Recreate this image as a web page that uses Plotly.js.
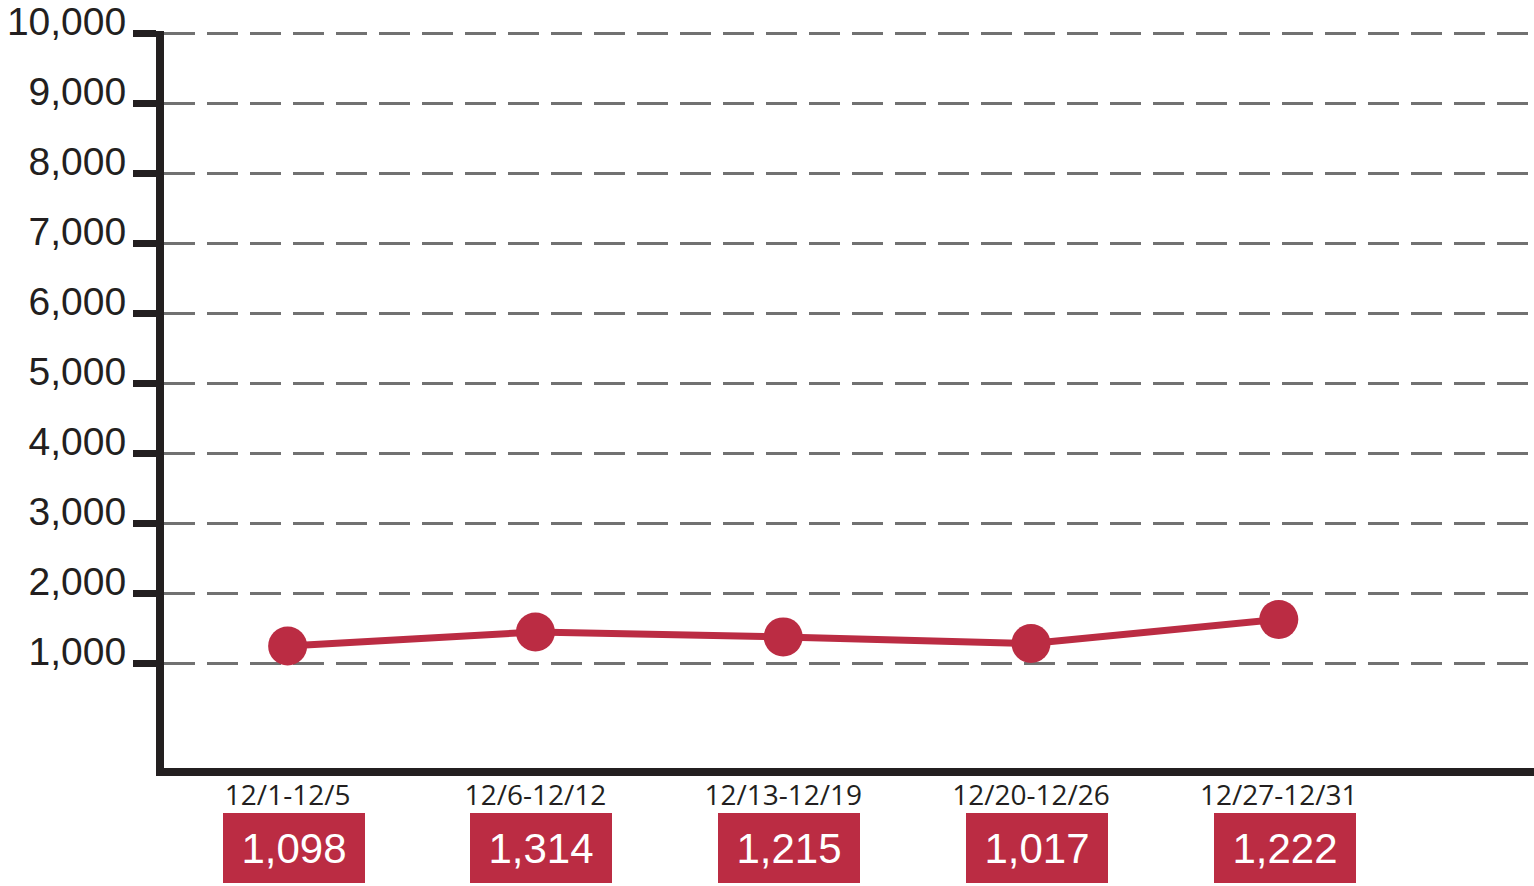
<!DOCTYPE html>
<html>
<head>
<meta charset="utf-8">
<script src="https://cdn.plot.ly/plotly-3.0.1.min.js"></script>
<style>
  html, body { margin: 0; padding: 0; background: #ffffff; }
  #chart { width: 1534px; height: 886px; }
</style>
</head>
<body>
<div id="chart"></div>
<script>
// Week ranges (x categories)
const weeks = ["12/1-12/5", "12/6-12/12", "12/13-12/19", "12/20-12/26", "12/27-12/31"];
const plotted = [1245, 1445, 1375, 1280, 1625];
// Totals printed in the red boxes under each week
const totals = [1098, 1314, 1215, 1017, 1222];
// Y axis ticks
const yTickVals = [1000, 2000, 3000, 4000, 5000, 6000, 7000, 8000, 9000, 10000];
const yTickText = ["1,000", "2,000", "3,000", "4,000", "5,000", "6,000", "7,000", "8,000", "9,000", "10,000"];

const RED = "#bb2c43";
const INK = "#231f20";

const trace = {
  type: "scatter",
  mode: "lines+markers",
  x: weeks,
  y: plotted,
  line: { color: RED, width: 7 },
  marker: { color: RED, size: 39 },
  hoverinfo: "skip"
};

const annotations = weeks.map((w, i) => ({
  x: w,
  xref: "x",
  y: -0.1084,
  yref: "paper",
  yanchor: "middle",
  xanchor: "center",
  xshift: 6,
  showarrow: false,
  text: totals[i].toLocaleString("en-US"),
  font: { family: "Liberation Sans, Arial, sans-serif", size: 42, color: "#ffffff" },
  bgcolor: RED,
  width: 142,
  height: 70,
  borderpad: 0,
  borderwidth: 0,
  valign: "middle",
  align: "center"
}));

const layout = {
  width: 1534,
  height: 886,
  margin: { l: 164, r: 0, t: 31, b: 118, pad: 0 },
  paper_bgcolor: "#ffffff",
  plot_bgcolor: "#ffffff",
  showlegend: false,
  xaxis: {
    type: "category",
    range: [-0.499, 5.03],
    showline: true,
    linewidth: 8,
    linecolor: INK,
    ticks: "",
    ticklabelstandoff: -5,
    showgrid: false,
    zeroline: false,
    tickfont: { family: "Open Sans, sans-serif", size: 28, color: INK },
    fixedrange: true
  },
  yaxis: {
    range: [-500, 10040],
    tickmode: "array",
    tickvals: yTickVals,
    ticktext: yTickText,
    showline: true,
    linewidth: 8,
    linecolor: INK,
    ticks: "outside",
    ticklen: 23,
    tickwidth: 7,
    tickcolor: INK,
    ticklabelshift: -12,
    ticklabelstandoff: -1,
    showgrid: true,
    gridcolor: "#717171",
    gridwidth: 3,
    griddash: "31px,12px",
    zeroline: false,
    tickfont: { family: "Liberation Sans, Arial, sans-serif", size: 39, color: INK },
    fixedrange: true
  },
  annotations: annotations
};

Plotly.newPlot("chart", [trace], layout, { displayModeBar: false, staticPlot: true });
</script>
</body>
</html>
